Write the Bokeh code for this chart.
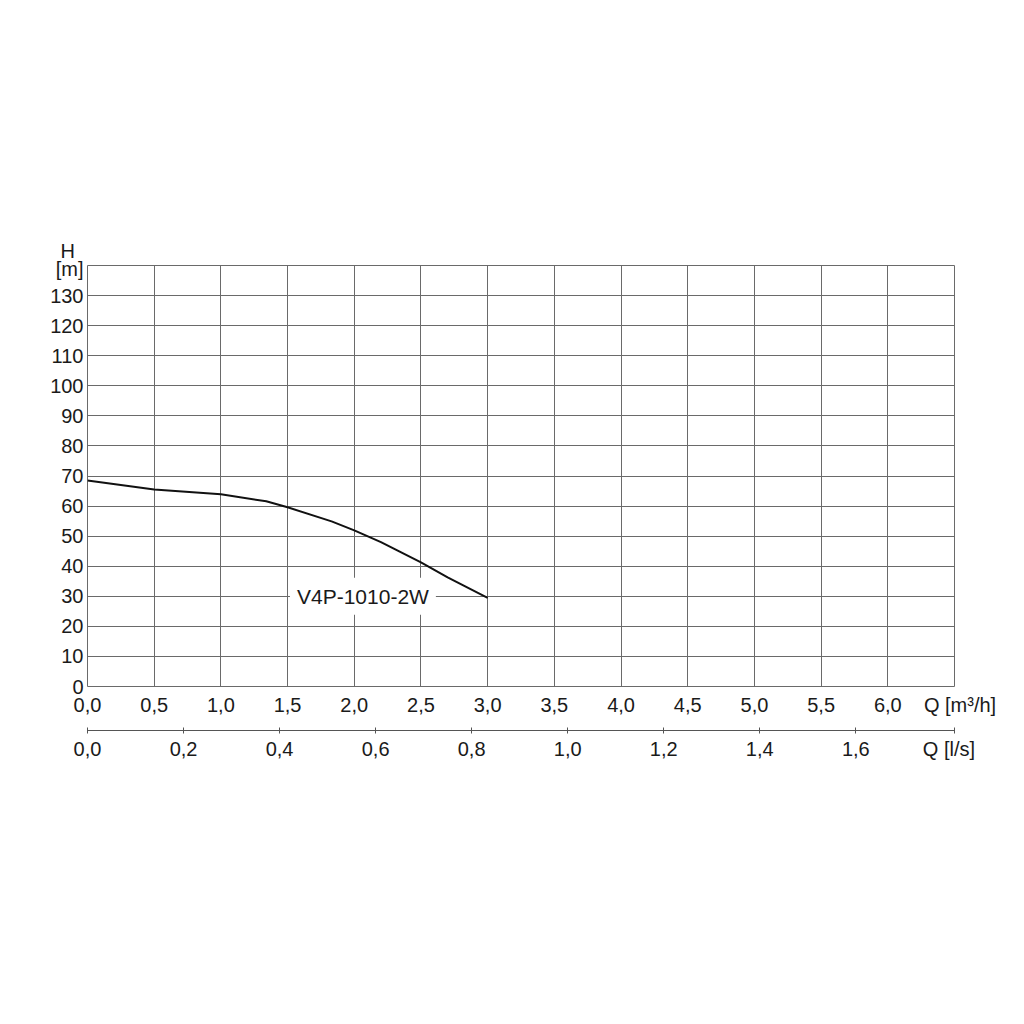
from bokeh.plotting import figure
from bokeh.models import (Range1d, LinearAxis, FixedTicker, CustomJSTickFormatter, Label, Title)
from bokeh.embed import file_html
from bokeh.resources import INLINE

# Data
q_m3h = [0.0, 0.5, 1.0, 1.34, 1.5, 1.83, 2.0, 2.2, 2.5, 2.7, 3.0]
h_m = [68.5, 65.5, 63.9, 61.6, 59.6, 54.9, 51.9, 48.0, 41.3, 36.3, 29.5]
x_ticks = [0.0, 0.5, 1.0, 1.5, 2.0, 2.5, 3.0, 3.5, 4.0, 4.5, 5.0, 5.5, 6.0]
x_grid = x_ticks + [6.5]
y_ticks = [0, 10, 20, 30, 40, 50, 60, 70, 80, 90, 100, 110, 120, 130]
ls_ticks = [0.0, 0.2, 0.4, 0.6, 0.8, 1.0, 1.2, 1.4, 1.6]
curve_name = "V4P-1010-2W"
q_max = 6.5
h_max = 140
ls_per_m3h = 1 / 3.6
x_title = "Q [m\u00b3/h]"
x2_title = "Q [l/s]"
y_unit = "[m]"
y_title = "H"

FONT = "Liberation Sans"
FS = "20px"
GRID = "#6a6a6a"
TXT = "#1a1a1a"

p = figure(frame_width=867, frame_height=421,
           x_range=Range1d(0, q_max), y_range=Range1d(0, h_max),
           output_backend="svg", toolbar_location=None,
           min_border_left=87, min_border_right=62,
           min_border_top=265, min_border_bottom=90,
           background_fill_color="white", border_fill_color="white")
p.outline_line_color = GRID
p.outline_line_width = 1

fmt = CustomJSTickFormatter(code="return tick.toFixed(1).replace('.', ',');")

# primary x axis (m3/h)
xa = p.xaxis[0]
xa.ticker = FixedTicker(ticks=x_ticks + [q_max])
xa.formatter = fmt
xa.major_label_overrides = {q_max: "\u00a0\u00a0" + x_title}
xa.axis_line_color = None
xa.major_tick_line_color = None
xa.minor_tick_line_color = None
xa.major_tick_out = 0
xa.major_tick_in = 0
xa.major_label_standoff = 7
xa.major_label_text_font = FONT
xa.major_label_text_font_size = FS
xa.major_label_text_color = TXT
xa.axis_label = " "
xa.axis_label_text_font_size = "8px"
xa.axis_label_standoff = 0

# y axis (label for the unit sits a little below the top edge)
y_unit_pos = h_max - 1.3
ya = p.yaxis[0]
ya.ticker = FixedTicker(ticks=y_ticks + [y_unit_pos])
ya.major_label_overrides = {y_unit_pos: y_unit}
ya.axis_line_color = None
ya.major_tick_line_color = None
ya.minor_tick_line_color = None
ya.major_tick_out = 0
ya.major_tick_in = 0
ya.major_label_standoff = 4
ya.major_label_text_font = FONT
ya.major_label_text_font_size = FS
ya.major_label_text_color = TXT

p.xgrid.ticker = FixedTicker(ticks=x_grid)
p.ygrid.ticker = FixedTicker(ticks=y_ticks)
p.xgrid.grid_line_color = GRID
p.ygrid.grid_line_color = GRID
p.xgrid.grid_line_width = 1
p.ygrid.grid_line_width = 1

# secondary axis in l/s
ls_max = q_max * ls_per_m3h
p.extra_x_ranges = {"ls": Range1d(0, ls_max)}
ax2 = LinearAxis(x_range_name="ls", ticker=FixedTicker(ticks=ls_ticks + [ls_max]), formatter=fmt)
ax2.major_label_overrides = {ls_max: x2_title + "\u00a0\u00a0"}
ax2.axis_line_color = "#555555"
ax2.axis_line_width = 1
ax2.major_tick_line_color = "#555555"
ax2.major_tick_in = 3
ax2.major_tick_out = 3
ax2.minor_tick_line_color = None
ax2.major_label_standoff = 4
ax2.major_label_text_font = FONT
ax2.major_label_text_font_size = FS
ax2.major_label_text_color = TXT
p.add_layout(ax2, "below")

# "H" above the y axis
p.add_layout(Title(text=y_title, align="left", offset=-27, standoff=7,
                   text_font=FONT, text_font_size=FS, text_font_style="normal",
                   text_color=TXT), "above")

# curve
p.line(q_m3h, h_m, line_color="#111111", line_width=2)

# curve label
p.add_layout(Label(x=2.065, y=30, text=curve_name, text_align="center", text_baseline="middle",
                   text_font=FONT, text_font_size="21px", text_color=TXT,
                   background_fill_color="white", padding=7))

open("out.html", "w").write(file_html(p, INLINE))
